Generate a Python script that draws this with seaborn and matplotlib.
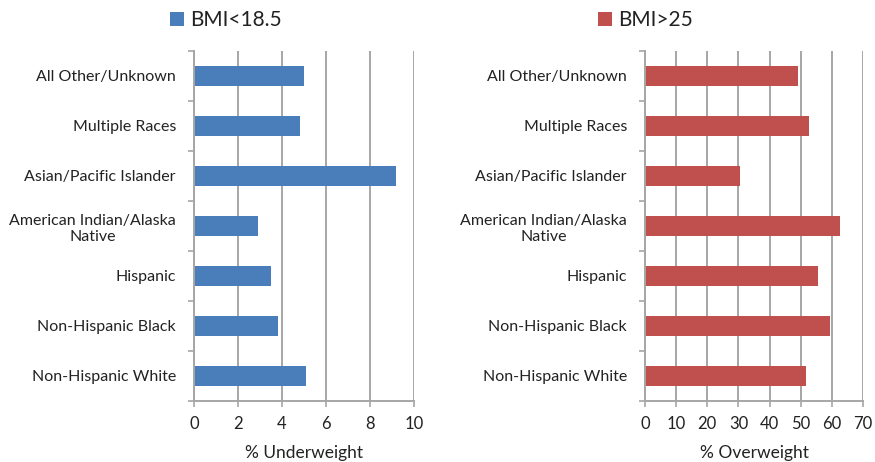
import matplotlib
matplotlib.use("Agg")
import matplotlib.pyplot as plt
import seaborn as sns
import pandas as pd

groups = ["All Other/Unknown", "Multiple Races", "Asian/Pacific Islander",
          "American Indian/Alaska\nNative", "Hispanic", "Non-Hispanic Black",
          "Non-Hispanic White"]
underweight = [5.0, 4.8, 9.2, 2.9, 3.5, 3.8, 5.1]
overweight = [49.1, 52.6, 30.5, 62.6, 55.5, 59.4, 51.7]

sns.set_theme(style="white")
plt.rcParams["font.family"] = ["Lato", "DejaVu Sans"]

fig = plt.figure(figsize=(8.75, 4.62), dpi=100)
ax_l = fig.add_axes([194 / 875, 1 - 401 / 462, 220 / 875, 350 / 462])
ax_r = fig.add_axes([645 / 875, 1 - 401 / 462, 218 / 875, 350 / 462])

grid_c = "#a6a6a6"
panels = [
    (ax_l, underweight, "#4a7ebb", "BMI<18.5", "% Underweight", 10, 2, 170),
    (ax_r, overweight, "#c0504d", "BMI>25", "% Overweight", 70, 10, 598),
]

for ax, vals, color, leg, xlabel, xmax, step, leg_x in panels:
    df = pd.DataFrame({"group": groups, "value": vals})
    sns.barplot(data=df, y="group", x="value", order=groups, orient="h",
                color=color, width=0.4, saturation=1, ax=ax, label=leg,
                edgecolor="none")
    ax.set_xlim(0, xmax)
    ax.set_ylim(len(groups) - 0.5, -0.5)
    ax.set_xticks(range(0, xmax + 1, step))
    ax.set_yticks([i - 0.5 for i in range(len(groups) + 1)], minor=False)
    ax.set_yticklabels([])
    ax.set_yticks(range(len(groups)), minor=True)
    ax.set_yticklabels(groups, minor=True, fontsize=11.5, color="#222222",
                       multialignment="center")
    ax.tick_params(axis="y", which="minor", length=0, pad=13)
    ax.tick_params(axis="y", which="major", length=4, width=1.2,
                   color=grid_c, direction="out", left=True)
    ax.tick_params(axis="x", length=4, width=1.2, color=grid_c,
                   direction="out", bottom=True, labelsize=12,
                   labelcolor="#222222", pad=7)
    ax.grid(axis="x", color=grid_c, linewidth=1.4)
    ax.set_axisbelow(True)
    for s in ["top", "right"]:
        ax.spines[s].set_visible(False)
    for s in ["left", "bottom"]:
        ax.spines[s].set_color(grid_c)
        ax.spines[s].set_linewidth(1.4)
    ax.set_ylabel("")
    ax.set_xlabel(xlabel, fontsize=12.5, color="#222222", labelpad=9)
    ax.legend(loc="center left", bbox_to_anchor=(leg_x / 875, 1 - 20 / 462),
              bbox_transform=fig.transFigure, frameon=False, fontsize=15,
              handlelength=0.65, handleheight=0.65, handletextpad=0.3,
              borderpad=0, borderaxespad=0, labelcolor="#222222")

fig.savefig("out.png", dpi=100)
